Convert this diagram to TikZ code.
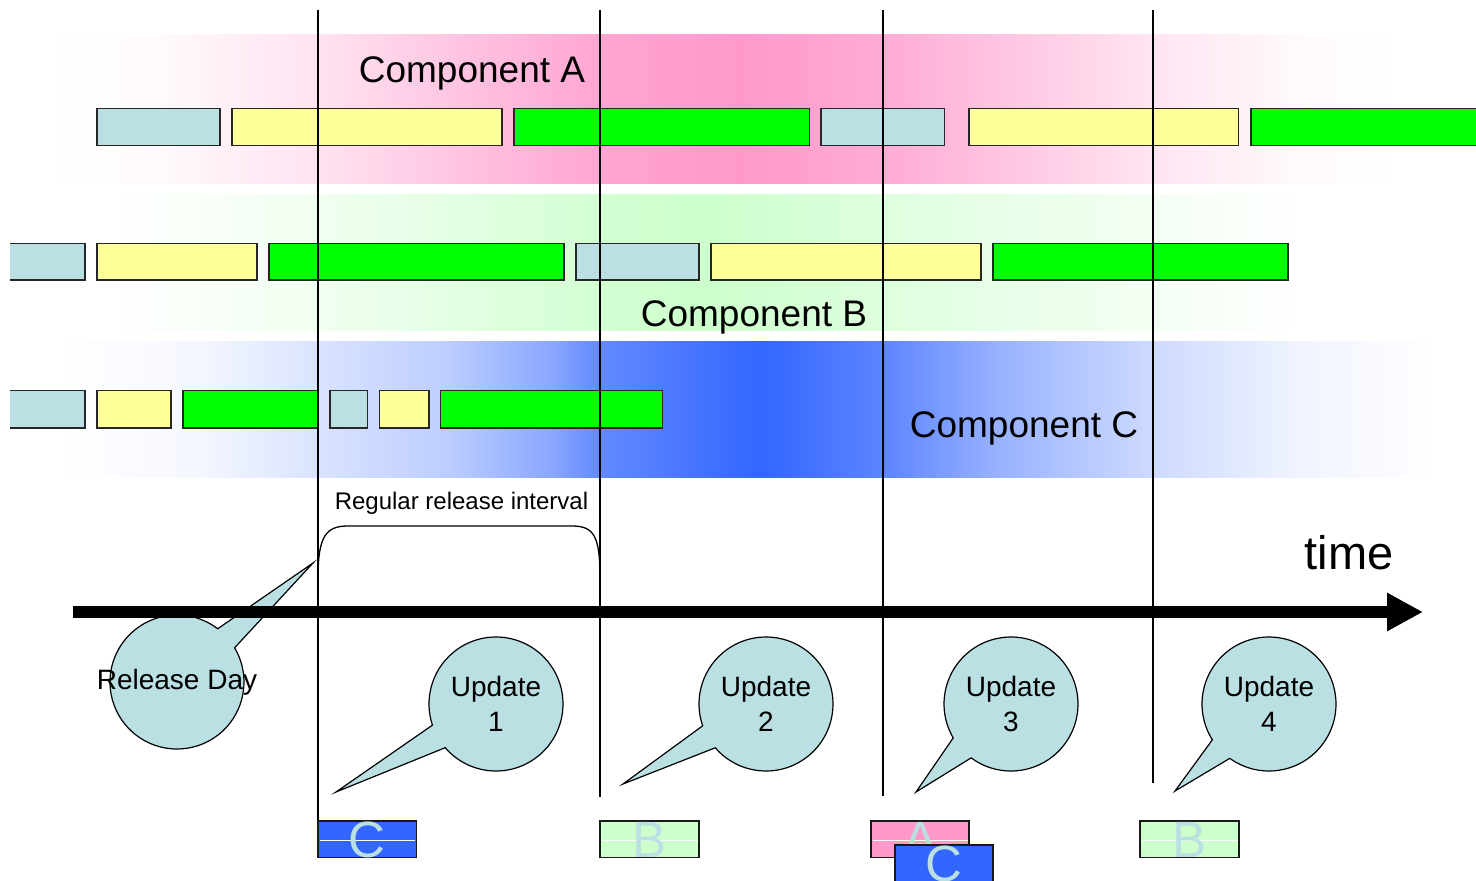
\documentclass[tikz,border=0pt]{standalone}
\usepackage{fontspec}
\setmainfont{Liberation Sans}
\usetikzlibrary{arrows.meta,calc}
\definecolor{pinkA}{HTML}{FF99CC}
\definecolor{greenB}{HTML}{CCFFCC}
\definecolor{blueC}{HTML}{3366FF}
\definecolor{cyanbox}{HTML}{BBE0E3}
\definecolor{yel}{HTML}{FFFF99}
\definecolor{grn}{HTML}{00FF00}
\pgfdeclarehorizontalshading{bandA}{100bp}{color(0bp)=(white); color(25bp)=(white); color(29bp)=(pinkA!5); color(34.93bp)=(pinkA!28); color(45.37bp)=(pinkA!88); color(50.56bp)=(pinkA); color(55.85bp)=(pinkA!82); color(65.85bp)=(pinkA!26); color(71.3bp)=(pinkA!5); color(75bp)=(white); color(100bp)=(white)}
\pgfdeclarehorizontalshading{bandB}{100bp}{color(0bp)=(white); color(25bp)=(white); color(34.11bp)=(greenB!28); color(45.73bp)=(greenB!85); color(49.86bp)=(greenB); color(57.4bp)=(greenB!65); color(68.53bp)=(greenB!22); color(75bp)=(white); color(100bp)=(white)}
\pgfdeclarehorizontalshading{bandC}{100bp}{color(0bp)=(white); color(25bp)=(white); color(30bp)=(blueC!5); color(34.36bp)=(blueC!18); color(39.15bp)=(blueC!33); color(42.78bp)=(blueC!57); color(44.59bp)=(blueC!77); color(50.4bp)=(blueC); color(54.86bp)=(blueC!80); color(59.11bp)=(blueC!50); color(64.66bp)=(blueC!24); color(69.99bp)=(blueC!7); color(75bp)=(white); color(100bp)=(white)}
\begin{document}
\begin{tikzpicture}[x=1pt,y=-1pt,
  bar/.style={draw=black!85, line width=1.4pt},
  vline/.style={draw=black, line width=1.3pt},
  callout/.style={fill=cyanbox, draw=black, line width=1.2pt},
  ubox/.style={draw=black!90, line width=1.5pt},
  lbl/.style={font=\fontsize{37}{44}\selectfont, inner sep=0pt, anchor=base},
  ctext/.style={font=\fontsize{28}{35}\selectfont, inner sep=0pt, align=center},
  letter/.style={font=\fontsize{51}{60}\selectfont, text=cyanbox, inner sep=0pt, anchor=base}]
\useasboundingbox (0,0) rectangle (1476,881);
\clip (0,0) rectangle (1476,881);

% bands
\shade[shading=bandA] (50,34) rectangle (1400,183);
\shade[shading=bandB] (97,194) rectangle (1310,330);
\shade[shading=bandC] (60,341) rectangle (1438,477);

% row A
\draw[bar, fill=cyanbox] (97,108.3) rectangle (220,145.7);
\draw[bar, fill=yel] (232,108.3) rectangle (502,145.7);
\draw[bar, fill=grn] (514,108.3) rectangle (809.5,145.7);
\draw[bar, fill=cyanbox] (821,108.3) rectangle (944.5,145.7);
\draw[bar, fill=yel] (969,108.3) rectangle (1238.5,145.7);
\draw[bar, fill=grn] (1251,108.3) rectangle (1490,145.7);

% row B
\fill[cyanbox] (10,243.3) rectangle (85,280);
\draw[bar] (10,243.3) -- (85,243.3) -- (85,280) -- (10,280);
\draw[bar, fill=yel] (97,243.3) rectangle (257,280);
\draw[bar, fill=grn] (269,243.3) rectangle (564,280);
\draw[bar, fill=cyanbox] (576,243.3) rectangle (699,280);
\draw[bar, fill=yel] (711,243.3) rectangle (981,280);
\draw[bar, fill=grn] (993,243.3) rectangle (1288,280);

% row C
\fill[cyanbox] (10,390.7) rectangle (85,428);
\draw[bar] (10,390.7) -- (85,390.7) -- (85,428) -- (10,428);
\draw[bar, fill=yel] (97,390.7) rectangle (171,428);
\draw[bar, fill=grn] (183,390.7) rectangle (318,428);
\draw[bar, fill=cyanbox] (330,390.7) rectangle (367.5,428);
\draw[bar, fill=yel] (379.5,390.7) rectangle (429,428);
\draw[bar, fill=grn] (440.5,390.7) rectangle (662.5,428);

% component labels
\node[lbl] (compA) at (472,82) {Component A};
\node[lbl] (compB) at (754,326) {Component B};
\node[lbl] (compC) at (1024,437) {Component C};

% vertical lines
\coordinate (v1t) at (318,10);  \coordinate (v1b) at (318,821);
\coordinate (v2t) at (600,10);  \coordinate (v2b) at (600,797);
\coordinate (v3t) at (883,10);  \coordinate (v3b) at (883,796);
\coordinate (v4t) at (1153,10); \coordinate (v4b) at (1153,783);
\draw[vline] (v1t) -- (v1b);
\draw[vline] (v2t) -- (v2b);
\draw[vline] (v3t) -- (v3b);
\draw[vline] (v4t) -- (v4b);

% interval bracket
\draw[line width=1.3pt] (318,578) .. controls (318,536) and (326,526) .. (348,526) -- (572,526) .. controls (594,526) and (600,536) .. (600,578);
\node[font=\fontsize{24}{29}\selectfont, inner sep=0pt, anchor=base] (interval) at (461.5,509) {Regular release interval};

% callouts
\coordinate (rdc) at (177,682);
\coordinate (rdt) at (313,563);
\filldraw[callout] (rdt) -- ($(rdc)+(52.6:67pt)$) arc[start angle=52.6, end angle=390.7, radius=67pt] -- cycle;

\coordinate (u1c) at (496,704);
\coordinate (u1t) at (336,792);
\filldraw[callout] (u1t) -- ($(u1c)+(220.7:67pt)$) arc[start angle=220.7, end angle=558.4, radius=67pt] -- cycle;

\coordinate (u2c) at (766,704);
\coordinate (u2t) at (623,784);
\filldraw[callout] (u2t) -- ($(u2c)+(220.8:67pt)$) arc[start angle=220.8, end angle=559.0, radius=67pt] -- cycle;

\coordinate (u3c) at (1011,704);
\coordinate (u3t) at (916,792);
\filldraw[callout] (u3t) -- ($(u3c)+(233.5:67pt)$) arc[start angle=233.5, end angle=570.4, radius=67pt] -- cycle;

\coordinate (u4c) at (1269,704);
\coordinate (u4t) at (1175,791);
\filldraw[callout] (u4t) -- ($(u4c)+(234.2:67pt)$) arc[start angle=234.2, end angle=572.3, radius=67pt] -- cycle;

% time arrow
\coordinate (t0) at (73,612);
\coordinate (t1) at (1423,612);
\draw[line width=11.5pt, -{Triangle[length=36pt,width=36pt]}] (t0) -- (t1);
\node[font=\fontsize{47}{56}\selectfont, inner sep=0pt, anchor=base] (time) at (1349,569) {time};

% callout texts
\node[ctext, anchor=base] (rd) at (177,689) {Release Day};
\node[ctext] (u1) at (u1c) {Update\\1};
\node[ctext] (u2) at (u2c) {Update\\2};
\node[ctext] (u3) at (u3c) {Update\\3};
\node[ctext] (u4) at (u4c) {Update\\4};

% update boxes
\draw[ubox, fill=blueC] (318,821) rectangle (416.5,857.5);
\draw[white, line width=1pt] (319.5,840) -- (415,840);
\node[letter] (lc1) at (367,857) {C};

\draw[ubox, fill=greenB] (600,821) rectangle (699,857.5);
\draw[white, line width=1pt] (601.5,840) -- (697.5,840);
\node[letter] (lb1) at (649.5,857) {B};

\draw[ubox, fill=pinkA] (871,821) rectangle (969,857.5);
\draw[white, line width=1pt] (872.5,840) -- (967.5,840);
\node[letter] (la) at (920,857) {A};

\draw[ubox, fill=blueC] (895,845) rectangle (993,895);
\node[letter] (lc2) at (944,881) {C};

\draw[ubox, fill=greenB] (1140,821) rectangle (1239,857.5);
\draw[white, line width=1pt] (1141.5,840) -- (1237.5,840);
\node[letter] (lb2) at (1189.5,857) {B};
\end{tikzpicture}
\end{document}
